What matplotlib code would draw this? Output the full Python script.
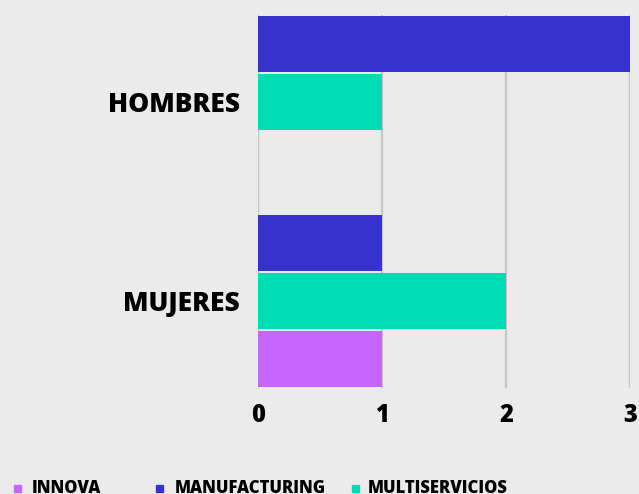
import matplotlib
matplotlib.use("Agg")
import matplotlib.pyplot as plt
from matplotlib.patches import Rectangle

categories = ["HOMBRES", "MUJERES"]
series = ["INNOVA", "MANUFACTURING", "MULTISERVICIOS"]
innova = [0, 1]
manufacturing = [3, 1]
multiservicios = [1, 2]
colors = {"INNOVA": "#c466ff", "MANUFACTURING": "#3633cc", "MULTISERVICIOS": "#00dbb3"}
xticks = [0, 1, 2, 3]

plt.rcParams['font.family'] = ['Open Sans', 'DejaVu Sans']

W, H = 639, 494
fig = plt.figure(figsize=(W/100, H/100), dpi=100, facecolor="#ebebeb")
ax = fig.add_axes([258/W, 1-388/H, 372/W, 373/H])
ax.set_facecolor("#ebebeb")

offsets = {"MANUFACTURING": -0.29, "MULTISERVICIOS": 0.0, "INNOVA": 0.29}
values = {"INNOVA": innova, "MANUFACTURING": manufacturing, "MULTISERVICIOS": multiservicios}
ypos = list(range(len(categories)))
for s in series:
    ys = [y + offsets[s] for y in ypos]
    ax.barh(ys, values[s], height=0.28, color=colors[s], zorder=3)

ax.set_ylim(1.435, -0.435)
ax.set_xlim(0, 3.0)
ax.set_xticks(xticks)
ax.set_xticklabels([str(t) for t in xticks], fontsize=17, fontweight='heavy')
ax.set_yticks(ypos)
ax.set_yticklabels(categories, fontsize=19, fontweight='heavy')
ax.tick_params(axis='both', length=0)
ax.tick_params(axis='x', pad=11)
ax.tick_params(axis='y', pad=13)
for sp in ax.spines.values():
    sp.set_visible(False)
ax.grid(axis='x', color="#c6c6c6", linewidth=1.6, zorder=0)
ax.axvline(0, color="#c6c6c6", linewidth=1.6, zorder=0)
ax.axvline(3, color="#c6c6c6", linewidth=1.6, zorder=0)

# legend (manual placement in pixel coordinates)
marker_x = [14, 156, 352]
text_x = [32, 175, 368]
for s, mx, tx in zip(series, marker_x, text_x):
    fig.patches.append(Rectangle((mx/W, 1-492/H), 7/W, 7/H, transform=fig.transFigure,
                                 color=colors[s], figure=fig))
    fig.text(tx/W, 1-480/H, s, ha='left', va='top', fontsize=12, fontweight='heavy')

fig.savefig("out.png", dpi=100, facecolor=fig.get_facecolor())
